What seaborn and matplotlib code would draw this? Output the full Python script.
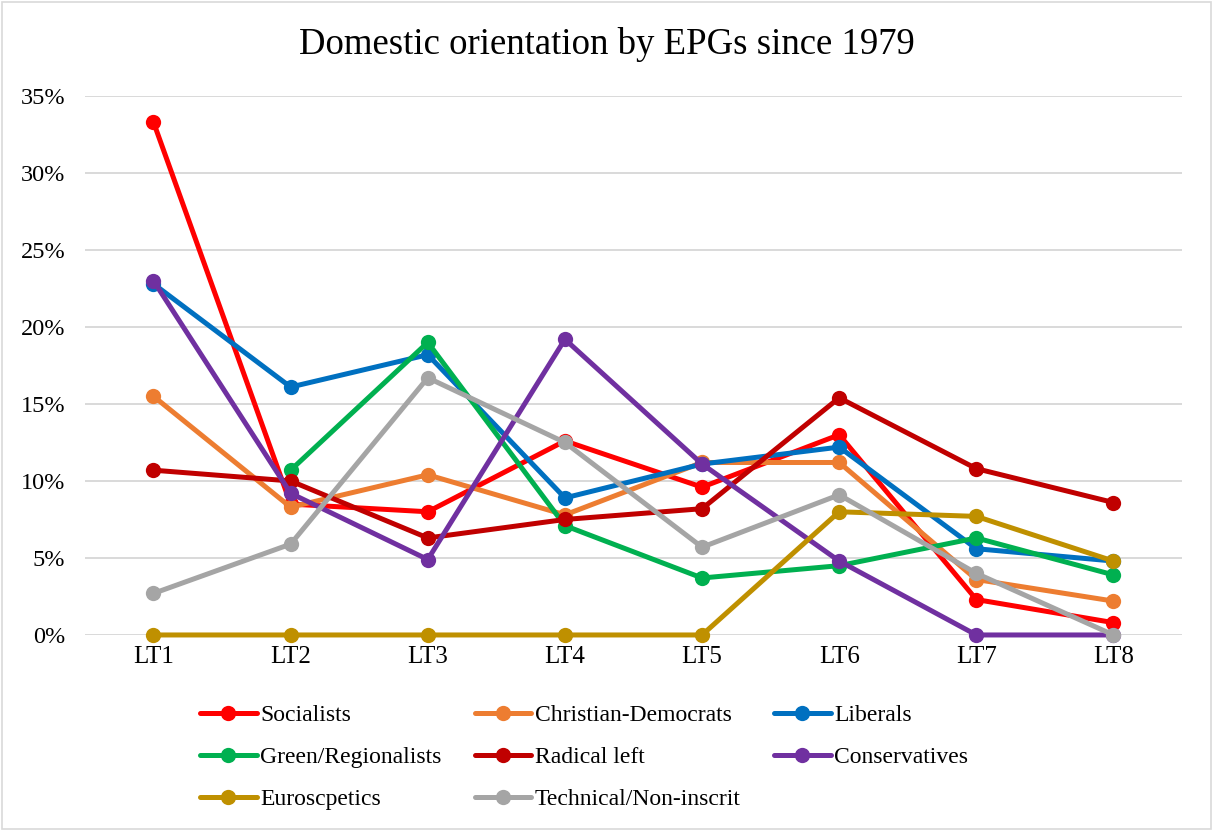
import numpy as np
import pandas as pd
import matplotlib
matplotlib.use("Agg")
import matplotlib.pyplot as plt
import matplotlib.ticker as mtick
import seaborn as sns

# data (share, LT1..LT8)
terms = ["LT1", "LT2", "LT3", "LT4", "LT5", "LT6", "LT7", "LT8"]

socialists = [0.333, 0.085, 0.080, 0.126, 0.096, 0.130, 0.023, 0.008]
christian_democrats = [0.155, 0.083, 0.104, 0.078, 0.112, 0.112, 0.036, 0.022]
liberals = [0.228, 0.161, 0.182, 0.089, 0.111, 0.122, 0.056, 0.048]
greens = [np.nan, 0.107, 0.190, 0.071, 0.037, 0.045, 0.063, 0.039]
radical_left = [0.107, 0.100, 0.063, 0.075, 0.082, 0.154, 0.108, 0.086]
conservatives = [0.230, 0.092, 0.049, 0.192, 0.111, 0.048, 0.0, 0.0]
eurosceptics = [0.0, 0.0, 0.0, 0.0, 0.0, 0.080, 0.077, 0.048]
technical = [0.027, 0.059, 0.167, 0.125, 0.057, 0.091, 0.040, 0.0]

groups = ["Socialists", "Christian-Democrats", "Liberals", "Green/Regionalists",
          "Radical left", "Conservatives", "Euroscpetics", "Technical/Non-inscrit"]
colors = ["#FF0000", "#ED7D31", "#0070C0", "#00B050",
          "#C00000", "#7030A0", "#BF9000", "#A5A5A5"]

series = [socialists, christian_democrats, liberals, greens,
          radical_left, conservatives, eurosceptics, technical]

# long format table
rows = []
for g, vals in zip(groups, series):
    for i, v in enumerate(vals):
        rows.append({"pos": i, "term": terms[i], "group": g, "share": v})
df = pd.DataFrame(rows)

sns.set_style("white")
plt.rcParams["font.family"] = ["Liberation Serif", "DejaVu Serif"]
plt.rcParams["text.color"] = "black"
plt.rcParams["xtick.color"] = "black"
plt.rcParams["ytick.color"] = "black"

fig = plt.figure(figsize=(12.13, 8.31), dpi=100)
ax = fig.add_axes([0.070, 0.2359, 0.9045, 0.6486])

sns.lineplot(
    data=df.dropna(),
    x="pos",
    y="share",
    hue="group",
    hue_order=groups,
    palette=colors,
    marker="o",
    markersize=11,
    markeredgewidth=0,
    linewidth=3.6,
    ax=ax,
    legend=True,
)
for ln in ax.lines:
    ln.set_clip_on(False)

ax.set_xlim(-0.5, len(terms) - 0.5)
ax.set_ylim(0, 0.35)
ax.set_xticks(range(len(terms)))
ax.set_xticklabels(terms)
ax.set_yticks(np.arange(0, 0.351, 0.05))
ax.yaxis.set_major_formatter(mtick.PercentFormatter(1.0, decimals=0))
ax.yaxis.grid(True, color="#D9D9D9", linewidth=1.4)
ax.set_axisbelow(True)
for s in ax.spines.values():
    s.set_visible(False)
ax.tick_params(axis="y", length=0, pad=14, labelsize=17.5)
ax.tick_params(axis="x", length=0, pad=8, labelsize=18)
ax.set_xlabel("")
ax.set_ylabel("")

# legend, row-major order like the original
handles, labels = ax.get_legend_handles_labels()
ax.get_legend().remove()
order = [0, 3, 6, 1, 4, 7, 2, 5]
fig.legend(
    [handles[i] for i in order],
    [labels[i] for i in order],
    ncol=3,
    loc="upper left",
    bbox_to_anchor=(0.165, 0.152),
    frameon=False,
    fontsize=17,
    handlelength=2.4,
    handletextpad=0.15,
    columnspacing=1.4,
    labelspacing=0.87,
    borderpad=0,
    borderaxespad=0,
)

fig.text(0.5, 0.946, "Domestic orientation by EPGs since 1979",
         ha="center", va="center", fontsize=26.5)

# chart border
fig.patches.append(plt.Rectangle((0.002, 0.002), 0.996, 0.996, transform=fig.transFigure,
                                 fill=False, edgecolor="#D9D9D9", linewidth=1.2))

fig.savefig("out.png", dpi=100)
